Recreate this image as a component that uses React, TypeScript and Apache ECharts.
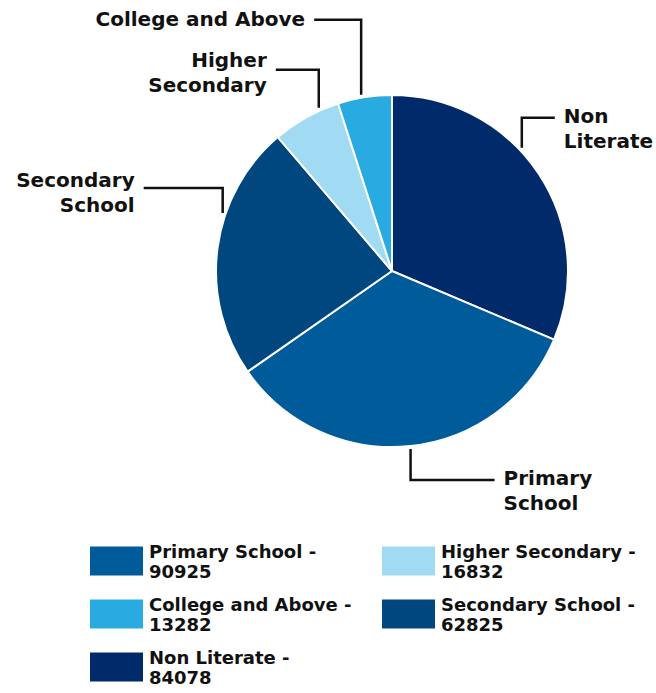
import React, { useEffect, useRef } from "react";
import * as echarts from "echarts";

const categories = ["Non Literate", "Primary School", "Secondary School", "Higher Secondary", "College and Above"];
const values = [84078, 90925, 62825, 16832, 13282];
const sliceLabels = ["Non\nLiterate", "Primary\nSchool", "Secondary\nSchool", "Higher\nSecondary", "College and Above"];
const legendColumn1 = ["Primary School", "College and Above", "Non Literate"];
const legendColumn2 = ["Higher Secondary", "Secondary School"];

// styling
const sliceColors = ["#002a69", "#005b9a", "#00477f", "#a0daf3", "#29abe2"];
// guide-line layout per slice: [anchor angle shift (deg), vertical length, horizontal length, label top offset]
const labelGuides = [
  [-10, -30, 33, -14],
  [0, 31, 84, -15],
  [11.6, -25, -79, -20],
  [5, -38, -43, -22],
  [-1, -75, -47, -13],
];
const CENTER = [392, 271];
const RADIUS = 176;
const FONT = "'DejaVu Sans', sans-serif";

export default function App() {
  const ref = useRef<HTMLDivElement>(null);
  useEffect(() => {
    document.body.style.margin = "0";
    if (!ref.current) return;
    const chart = echarts.init(ref.current, undefined, { renderer: "svg" });
    const total = values.reduce((a, b) => a + b, 0);
    const starts: number[] = [];
    let acc = 0;
    values.forEach((v) => {
      starts.push(acc);
      acc += (v / total) * 360;
    });
    const legendBase = {
      orient: "vertical" as const,
      itemWidth: 55,
      itemHeight: 31,
      itemGap: 13,
      padding: 0,
      icon: "rect",
      selectedMode: false,
      top: 541,
      height: 160,
      formatter: (name: string) => `${name} -\n${values[categories.indexOf(name)]}`,
      textStyle: { fontSize: 18, fontWeight: "bold" as const, lineHeight: 20, color: "#111", fontFamily: FONT },
    };
    chart.setOption({
      animation: false,
      legend: [
        { ...legendBase, left: 88, data: legendColumn1 },
        { ...legendBase, left: 380, data: legendColumn2 },
      ],
      series: [
        {
          type: "pie",
          center: CENTER,
          radius: RADIUS,
          startAngle: 90,
          clockwise: true,
          avoidLabelOverlap: false,
          itemStyle: { borderColor: "#fff", borderWidth: 2 },
          label: {
            show: true,
            position: "outside",
            formatter: (p: any) => sliceLabels[p.dataIndex],
            fontSize: 20,
            fontWeight: "bold",
            lineHeight: 25,
            color: "#111",
            fontFamily: FONT,
          },
          labelLine: { show: true, lineStyle: { color: "#111", width: 2.5 } },
          labelLayout: (params: any) => {
            const i = params.dataIndex;
            const [shift, rise, run, dy] = labelGuides[i];
            const mid = starts[i] + ((values[i] / total) * 360) / 2 + shift;
            const a = (mid * Math.PI) / 180;
            const r = RADIUS + 3;
            const ax = CENTER[0] + r * Math.sin(a);
            const ay = CENTER[1] - r * Math.cos(a);
            const ey = ay + rise;
            const ex = ax + run;
            return {
              x: ex + (run > 0 ? 9 : -9),
              y: ey + dy,
              align: run > 0 ? "left" : "right",
              verticalAlign: "top",
              labelLinePoints: [
                [ax, ay],
                [ax, ey],
                [ex, ey],
              ],
            };
          },
          data: categories.map((name, i) => ({
            name,
            value: values[i],
            itemStyle: { color: sliceColors[i] },
          })),
        },
      ],
    });
    return () => chart.dispose();
  }, []);
  return <div ref={ref} style={{ width: 656, height: 693 }} />;
}
